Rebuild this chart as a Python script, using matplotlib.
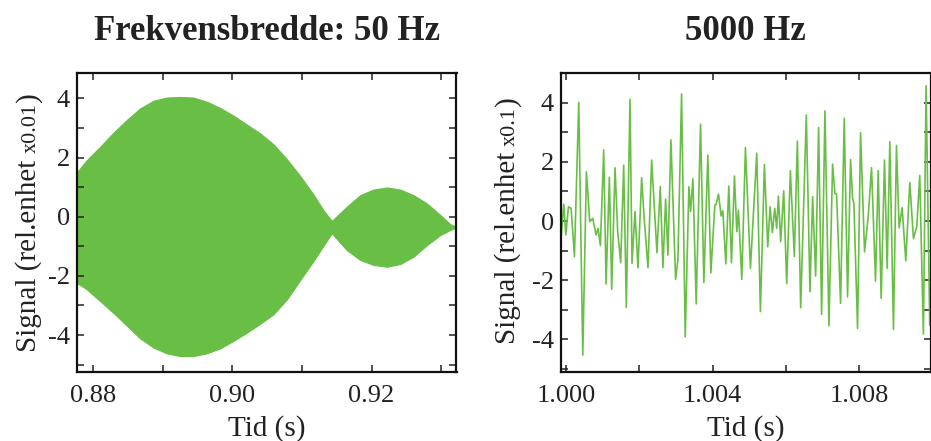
import numpy as np
import matplotlib
matplotlib.use("Agg")
import matplotlib.pyplot as plt
from matplotlib.ticker import MultipleLocator, FixedLocator

# ---------------- data ----------------
# Left panel: envelope of the densely oscillating 50 Hz-band signal
env_t = [0.87770, 0.87904, 0.88096, 0.88288, 0.88480, 0.88671, 0.88863, 0.89055,
         0.89247, 0.89439, 0.89631, 0.89823, 0.90014, 0.90206, 0.90398, 0.90590,
         0.90782, 0.90974, 0.91165, 0.91309, 0.91429, 0.91645, 0.91837, 0.92029,
         0.92221, 0.92412, 0.92604, 0.92796, 0.92988, 0.93132, 0.93218]
env_upper = [1.52, 1.91, 2.36, 2.84, 3.27, 3.66, 3.92, 4.03, 4.05, 4.03, 3.89, 3.68,
             3.42, 3.12, 2.82, 2.45, 1.95, 1.38, 0.75, 0.22, -0.14, 0.34, 0.73, 0.92,
             0.99, 0.92, 0.73, 0.45, 0.06, -0.25, -0.34]
env_lower = [-2.25, -2.45, -2.85, -3.25, -3.68, -4.11, -4.42, -4.62, -4.71, -4.71,
             -4.62, -4.45, -4.20, -3.92, -3.62, -3.30, -2.80, -2.14, -1.50, -0.98,
             -0.56, -1.13, -1.46, -1.63, -1.69, -1.60, -1.35, -0.96, -0.62, -0.45, -0.36]

# Right panel: 5000 Hz-band signal (time in ms after 1.000 s)
sig_t_ms = [-0.136, -0.064, -0.009, 0.064, 0.136, 0.227, 0.345, 0.455, 0.554, 0.645,
            0.727, 0.818, 0.873, 0.936, 1.027, 1.091, 1.182, 1.245, 1.336, 1.409,
            1.491, 1.573, 1.645, 1.745, 1.800, 1.881, 1.963, 2.063, 2.136, 2.236,
            2.336, 2.481, 2.572, 2.645, 2.718, 2.781, 2.863, 2.990, 3.054, 3.154,
            3.254, 3.354, 3.399, 3.463, 3.554, 3.672, 3.763, 3.872, 3.954, 4.063,
            4.099, 4.163, 4.235, 4.281, 4.363, 4.444, 4.517, 4.599, 4.663, 4.708,
            4.799, 4.899, 5.035, 5.208, 5.308, 5.417, 5.508, 5.572, 5.635, 5.699,
            5.753, 5.799, 5.862, 5.944, 6.026, 6.126, 6.235, 6.317, 6.408, 6.562,
            6.662, 6.735, 6.817, 6.898, 6.980, 7.071, 7.180, 7.280, 7.344, 7.389,
            7.498, 7.598, 7.689, 7.771, 7.826, 7.862, 7.962, 8.044, 8.153, 8.253,
            8.344, 8.453, 8.526, 8.607, 8.698, 8.771, 8.844, 8.943, 9.025, 9.098,
            9.180, 9.280, 9.389, 9.489, 9.580, 9.661, 9.761, 9.834, 9.934]
sig_val = [-0.53, 0.57, -0.47, 0.48, 0.43, -1.20, 4.01, -4.53, 1.66, -0.02,
           0.09, -0.47, -0.25, -0.83, 2.40, -2.13, 1.48, -2.31, 1.80, -0.36,
           -1.41, 1.89, -2.92, 4.11, -1.43, 0.32, -1.58, 1.46, 0.03, -1.58,
           2.06, -1.07, 1.16, -1.57, 0.74, -1.15, 2.74, -1.97, -1.32, 4.29,
           -3.91, 1.16, 0.32, 1.43, -2.80, 3.27, -2.08, 2.23, -1.75, 0.54,
           0.56, 0.91, 0.17, 0.35, -1.45, 1.18, -1.41, 1.52, -0.36, 0.37,
           -1.97, 2.48, -1.60, 2.29, -3.06, 1.91, -0.87, 0.48, -0.39, 0.43,
           -0.25, 0.84, -0.70, 1.02, -2.11, 1.70, -1.20, 2.70, -2.93, 3.58,
           -2.39, 0.82, -1.86, 3.16, -3.15, 3.72, -3.54, 1.92, 0.93, 0.91,
           -2.78, 3.47, -2.56, 2.08, 0.77, 0.60, -3.63, 2.98, -1.04, 0.15,
           1.80, -2.03, 1.70, -2.61, 2.06, -1.60, 2.68, -3.66, 2.55, -0.23,
           0.45, -1.34, 1.30, -0.59, -0.19, 1.54, -3.82, 4.57, -3.51]

left_xticks = [0.88, 0.90, 0.92]
left_xticklabels = ["0.88", "0.90", "0.92"]
right_xticks = [1.000, 1.004, 1.008]
right_xticklabels = ["1.000", "1.004", "1.008"]
yticks = [-4, -2, 0, 2, 4]
yticklabels = ["-4", "-2", "0", "2", "4"]

titles = ["Frekvensbredde: 50 Hz", "5000 Hz"]
xlabel = "Tid (s)"
ylabel_parts_left = ["Signal (rel.enhet", "x0.01", ")"]
ylabel_parts_right = ["Signal (rel.enhet", "x0.1", ")"]

# ---------------- style ----------------
GREEN = "#69BE45"
SERIF = ["Liberation Serif", "DejaVu Serif"]
plt.rcParams["font.family"] = SERIF
TICK_FS = 19
LABEL_FS = 21
TEXT_COLOR = "#222222"

W, H = 931, 441
fig = plt.figure(figsize=(W / 100, H / 100), dpi=100)

def px_rect(x0, x1, ytop, ybot):
    return [x0 / W, 1 - ybot / H, (x1 - x0) / W, (ybot - ytop) / H]

axL = fig.add_axes(px_rect(77, 456.5, 73, 372))
axR = fig.add_axes(px_rect(561, 930.5, 73, 372))

axL.fill_between(env_t, env_lower, env_upper, color=GREEN, linewidth=0.8,
                 edgecolor=GREEN)
axL.set_xlim(0.87765, 0.93222)
axL.set_ylim(-5.25, 4.86)

t_right = 1.0 + np.array(sig_t_ms) / 1000.0
axR.plot(t_right, sig_val, color=GREEN, lw=1.2)
axR.set_xlim(0.99986, 1.009955)
axR.set_ylim(-5.1, 5.0)

def style(ax, xt, xtl, minor_x):
    ax.xaxis.set_major_locator(FixedLocator(xt))
    ax.set_xticklabels(xtl)
    ax.xaxis.set_minor_locator(MultipleLocator(minor_x))
    ax.yaxis.set_major_locator(FixedLocator(yticks))
    ax.set_yticklabels(yticklabels)
    ax.yaxis.set_minor_locator(MultipleLocator(1))
    ax.tick_params(which="both", direction="in", top=True, right=True,
                   length=5, width=1.1, labelsize=TICK_FS, color="#222222",
                   labelcolor=TEXT_COLOR)
    ax.tick_params(axis="x", which="both", pad=9)
    ax.tick_params(axis="y", which="both", pad=5)
    for s in ax.spines.values():
        s.set_linewidth(1.6)
        s.set_color("#111111")
    ax.set_xlabel(xlabel, fontsize=LABEL_FS, labelpad=6, color=TEXT_COLOR)

style(axL, left_xticks, left_xticklabels, 0.01)
style(axR, right_xticks, right_xticklabels, 0.002)

axL.set_title(titles[0], fontsize=25, fontweight="bold", pad=24, color=TEXT_COLOR)
axR.set_title(titles[1], fontsize=25, fontweight="bold", pad=24, color=TEXT_COLOR)

def rich_ylabel(parts, base_x_px, center_y_px):
    sizes = [LABEL_FS, 16, LABEL_FS]
    gaps = [6, 1, 0]
    texts = []
    for p, s in zip(parts, sizes):
        t = fig.text(0, 0, p, rotation=90, rotation_mode="anchor", ha="left",
                     va="baseline", fontsize=s, transform=None, color=TEXT_COLOR)
        texts.append(t)
    fig.canvas.draw()
    r = fig.canvas.get_renderer()
    lens = [t.get_window_extent(r).height for t in texts]
    total = sum(lens) + sum(gaps[:-1])
    y = (H - center_y_px) - total / 2
    for t, L, g in zip(texts, lens, gaps):
        t.set_position((base_x_px, y))
        y += L + g

rich_ylabel(ylabel_parts_left, 36, 222)
rich_ylabel(ylabel_parts_right, 515, 220)

fig.savefig("out.png", dpi=100)
